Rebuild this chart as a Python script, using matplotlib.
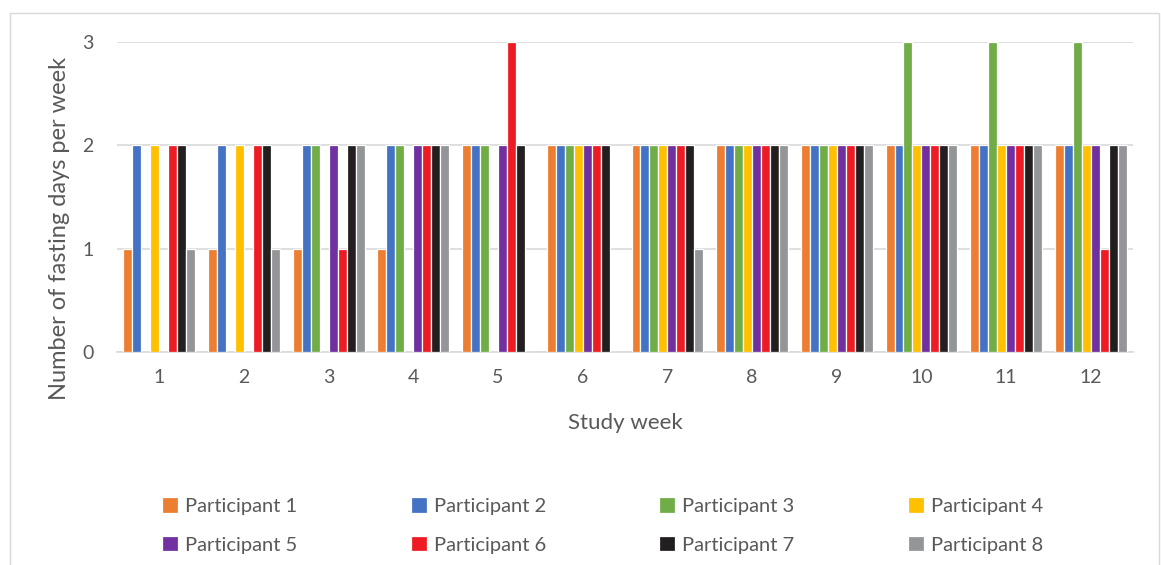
import matplotlib
matplotlib.use("Agg")
import matplotlib.pyplot as plt
import numpy as np

plt.rcParams['font.family'] = ['Lato', 'DejaVu Sans']

# fasting days per week, one list per participant (weeks 1-12)
weeks = [1, 2, 3, 4, 5, 6, 7, 8, 9, 10, 11, 12]
participants = ["Participant 1", "Participant 2", "Participant 3", "Participant 4",
                "Participant 5", "Participant 6", "Participant 7", "Participant 8"]
p1 = [1, 1, 1, 1, 2, 2, 2, 2, 2, 2, 2, 2]
p2 = [2, 2, 2, 2, 2, 2, 2, 2, 2, 2, 2, 2]
p3 = [0, 0, 2, 2, 2, 2, 2, 2, 2, 3, 3, 3]
p4 = [2, 2, 0, 0, 0, 2, 2, 2, 2, 2, 2, 2]
p5 = [0, 0, 2, 2, 2, 2, 2, 2, 2, 2, 2, 2]
p6 = [2, 2, 1, 2, 3, 2, 2, 2, 2, 2, 2, 1]
p7 = [2, 2, 2, 2, 2, 2, 2, 2, 2, 2, 2, 2]
p8 = [1, 1, 2, 2, 0, 0, 1, 2, 2, 2, 2, 2]
series = [p1, p2, p3, p4, p5, p6, p7, p8]

colors = ["#ED7D31", "#4472C4", "#70AD47", "#FFC000",
          "#7030A0", "#ED1C24", "#231F20", "#939598"]

text_color = "#595959"
grid_color = "#D9D9D9"

fig = plt.figure(figsize=(11.61, 5.65), dpi=100)
ax = fig.add_axes([0.1008, 0.377, 0.8752, 0.5487])

x = np.array(weeks)
pitch = 0.106
bars = []
for i, (vals, c, name) in enumerate(zip(series, colors, participants)):
    offs = (i - 3.5) * pitch
    b = ax.bar(x + offs, vals, width=pitch, color=c, edgecolor="white",
               linewidth=0.9, label=name, zorder=3)
    bars.append(b)

ax.set_xlim(0.5, 12.5)
ax.set_ylim(0, 3)
ax.set_yticks([0, 1, 2, 3])
ax.set_xticks(weeks)
ax.grid(axis="y", color=grid_color, linewidth=1.2, zorder=0)
for s in ["top", "right", "left"]:
    ax.spines[s].set_visible(False)
ax.spines["bottom"].set_color(grid_color)
ax.spines["bottom"].set_linewidth(1.2)
ax.tick_params(length=0, labelsize=14, colors=text_color, pad=12)
ax.tick_params(axis="y", pad=17)

ax.set_xlabel("Study week", fontsize=16, color=text_color, labelpad=20)
ax.set_ylabel("Number of fasting days per week", fontsize=17, color=text_color)
ax.yaxis.set_label_coords(-0.046, 0.40)

# legend reads left-to-right across rows, so feed handles column by column
order = [0, 4, 1, 5, 2, 6, 3, 7]
leg = fig.legend([bars[k] for k in order], [participants[k] for k in order],
                 loc="lower left", bbox_to_anchor=(0.124, -0.012, 0.79, 0.15),
                 ncol=4, mode="expand", frameon=False, fontsize=14.5,
                 handlelength=0.8, handleheight=0.8, handletextpad=0.35,
                 labelspacing=1.05)
for t in leg.get_texts():
    t.set_color(text_color)

# outer chart frame
fig.patches.append(plt.Rectangle((10 / 1161, -0.01), 1149 / 1161, 1 - 13 / 565 + 0.01,
                                 transform=fig.transFigure, fill=False,
                                 edgecolor=grid_color, linewidth=1.0))

fig.savefig("out.png", dpi=100)
